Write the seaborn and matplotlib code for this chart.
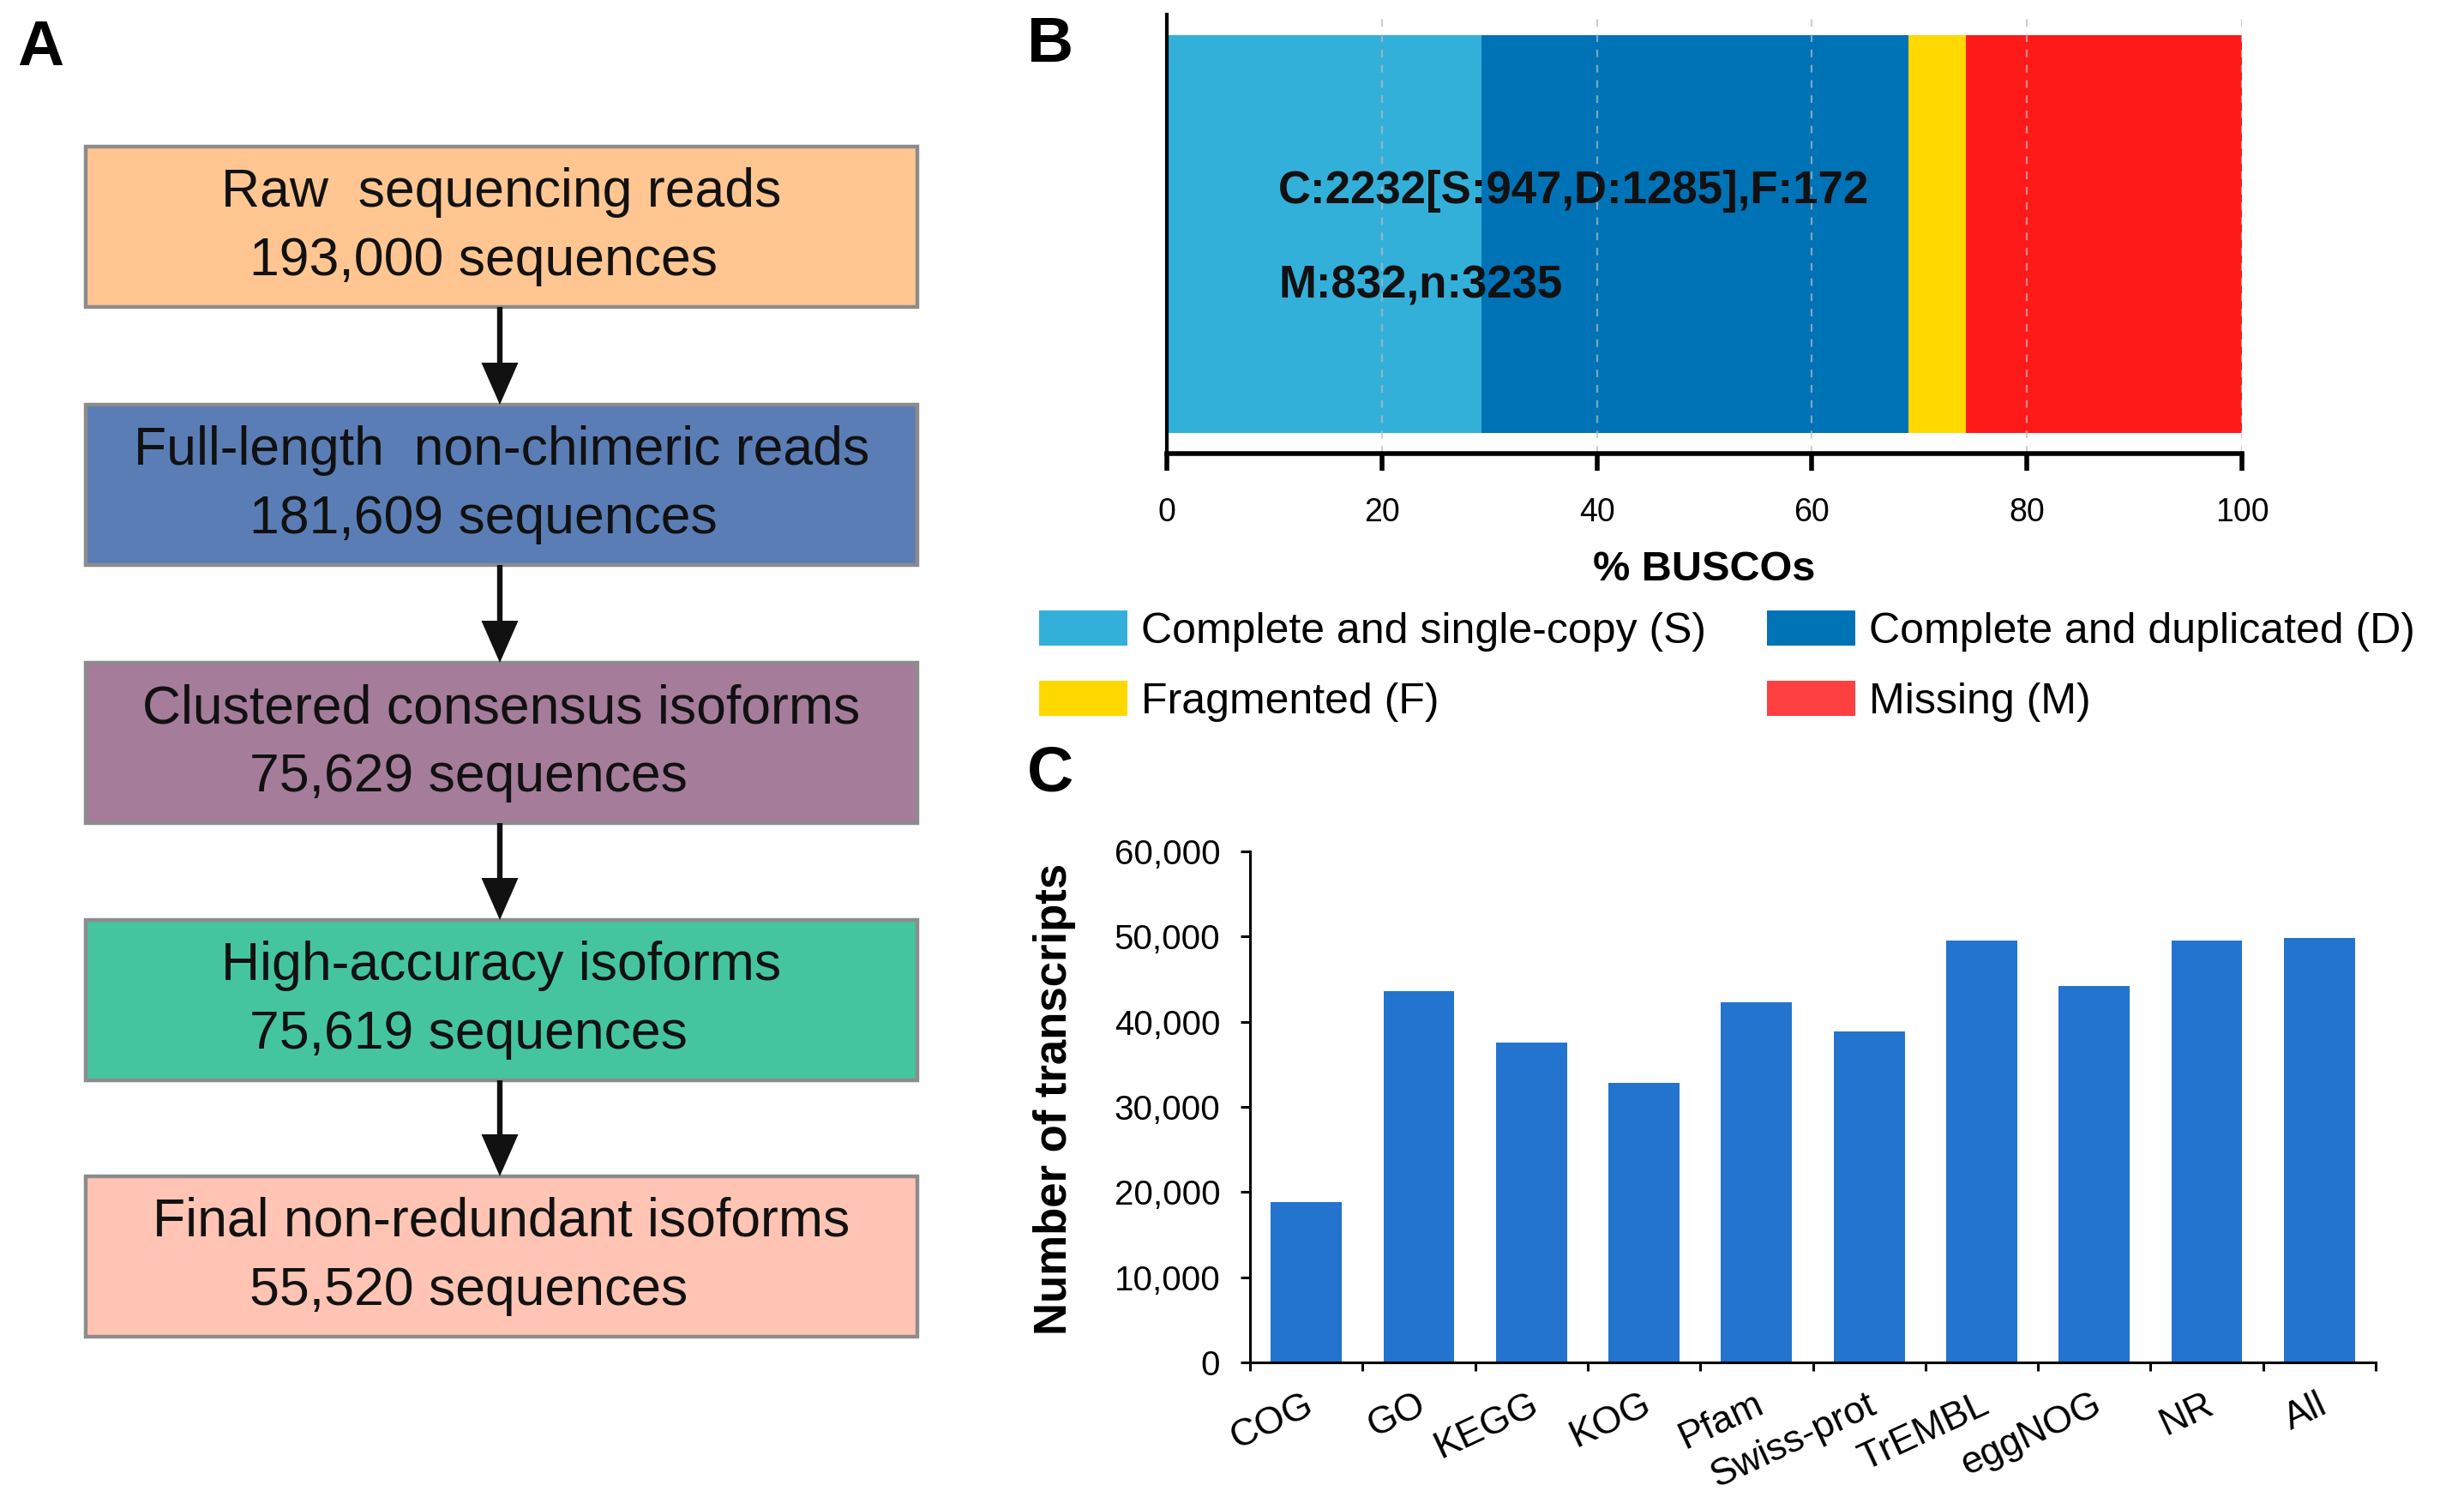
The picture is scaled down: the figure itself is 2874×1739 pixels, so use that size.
import numpy as np
import pandas as pd
import matplotlib
matplotlib.use("Agg")
import matplotlib.pyplot as plt
import matplotlib.transforms as mtransforms
from matplotlib.patches import Rectangle, Patch
from matplotlib.ticker import FuncFormatter
import seaborn as sns

# ---------------- data ----------------
flow_titles = ["Raw  sequencing reads", "Full-length  non-chimeric reads",
               "Clustered consensus isoforms", "High-accuracy isoforms",
               "Final non-redundant isoforms"]
flow_counts = ["193,000", "181,609", "75,629", "75,619", "55,520"]
flow_colors = ["#FFC692", "#5B7DB5", "#A57C9A", "#45C59F", "#FFC4B4"]

busco_labels = ["Complete and single-copy (S)", "Complete and duplicated (D)",
                "Fragmented (F)", "Missing (M)"]
busco_counts = [947, 1285, 172, 832]
busco_total = 3235
busco_colors = ["#33B0DA", "#0072B6", "#FFD800", "#FF1A1A"]
busco_legend_colors = ["#33B0DA", "#0072B6", "#FFD800", "#FF4040"]
busco_ticks = [0, 20, 40, 60, 80, 100]

databases = ["COG", "GO", "KEGG", "KOG", "Pfam", "Swiss-prot", "TrEMBL",
             "eggNOG", "NR", "All"]
transcripts = [18850, 43600, 37600, 32800, 42300, 38900, 49500, 44200, 49500, 49800]
transcript_ticks = [0, 10000, 20000, 30000, 40000, 50000, 60000]

# ---------------- style ----------------
sns.set_theme(style="white")
plt.rcParams["font.family"] = ["Liberation Sans", "DejaVu Sans"]
plt.rcParams.update({"text.color": "black", "axes.labelcolor": "black",
                     "xtick.color": "black", "ytick.color": "black",
                     "axes.edgecolor": "black"})

DPI = 200
W, H = 2874, 1739
fig = plt.figure(figsize=(W / DPI, H / DPI), dpi=DPI)
fig.patch.set_facecolor("white")

# ---------------- panel A: flowchart ----------------
axA = fig.add_axes([0, 0, 1150 / W, 1])
axA.set_xlim(0, 1150)
axA.set_ylim(H, 0)
axA.axis("off")

box_left, box_w, box_h = 100, 970, 187
box_tops = [171, 472, 773, 1073, 1372]
arrow_x = 583
for i, (title, cnt, col) in enumerate(zip(flow_titles, flow_counts, flow_colors)):
    top = box_tops[i]
    axA.add_patch(Rectangle((box_left, top), box_w, box_h, facecolor=col,
                            edgecolor="#8c8c8c", lw=1.6))
    cy = top + box_h / 2
    axA.text(box_left + box_w / 2, cy - 40, title, ha="center", va="center",
             fontsize=22.5, color="#111111")
    axA.text(291, cy + 40, f"{cnt} sequences", ha="left", va="center",
             fontsize=22.5, color="#111111")
for i in range(len(box_tops) - 1):
    y0 = box_tops[i] + box_h
    y1 = box_tops[i + 1]
    axA.plot([arrow_x, arrow_x], [y0, y1 - 40], color="#111111", lw=2.3,
             solid_capstyle="butt")
    axA.fill([arrow_x - 21.5, arrow_x + 21.5, arrow_x],
             [y1 - 49, y1 - 49, y1], color="#111111", lw=0)

fig.text(47 / W, 1 - 56 / H, "A", fontsize=27, fontweight="bold",
         ha="center", va="center")

# ---------------- panel B: BUSCO ----------------
axB = fig.add_axes([1361 / W, 1 - 529 / H, (2615 - 1361) / W, (529 - 17) / H])
cum = np.cumsum(busco_counts) / busco_total * 100
for i in reversed(range(len(busco_counts))):
    sns.barplot(x=[cum[i]], y=["BUSCO"], orient="h", color=busco_colors[i],
                saturation=1, width=1.0, linewidth=0, ax=axB)
axB.set_xlim(0, 100)
axB.set_ylim(0.5506, -0.5506)
axB.set_yticks([])
axB.set_ylabel("")
axB.set_xticks(busco_ticks)
axB.set_xticklabels([str(t) for t in busco_ticks], fontsize=13.5)
axB.tick_params(axis="x", bottom=True, direction="out", length=7.2, width=2,
                pad=11)
for s in ["top", "right"]:
    axB.spines[s].set_visible(False)
axB.spines["left"].set_linewidth(1.5)
axB.spines["bottom"].set_linewidth(2)
axB.spines["left"].set_zorder(6)
axB.spines["bottom"].set_zorder(6)
axB.grid(axis="x", linestyle=(0, (4, 4)), color="#bbbbbb", lw=0.8, alpha=0.7)
axB.grid(axis="y", visible=False)
axB.set_axisbelow(False)
axB.set_xlabel("% BUSCOs", fontsize=17.5, fontweight="bold")
axB.xaxis.set_label_coords(0.5, -0.22)

S, D, F, M = busco_counts
trB = mtransforms.blended_transform_factory(axB.transData, axB.transAxes)
axB.text(10.37, 0.5977, f"C:{S + D}[S:{S},D:{D}],F:{F}", transform=trB,
         ha="left", va="center", fontsize=19, fontweight="bold", color="#111111")
axB.text(10.37, 0.3828, f"M:{M},n:{busco_total}", transform=trB,
         ha="left", va="center", fontsize=19, fontweight="bold", color="#111111")

order = [0, 2, 1, 3]
handles = [Patch(facecolor=busco_legend_colors[i], edgecolor="none") for i in order]
labels = [busco_labels[i] for i in order]
fig.legend(handles, labels, ncol=2, loc="upper left",
           bbox_to_anchor=(1212 / W, 1 - 712 / H), frameon=False, fontsize=18,
           handlelength=2.06, handleheight=0.9, handletextpad=0.32,
           columnspacing=1.42, labelspacing=0.68, borderpad=0, borderaxespad=0)

fig.text(1225 / W, 1 - 52 / H, "B", fontsize=27, fontweight="bold",
         ha="center", va="center")

# ---------------- panel C: annotation counts ----------------
axC = fig.add_axes([1458 / W, 1 - 1589 / H, 1313 / W, 596 / H])
dfC = pd.DataFrame({"database": databases, "count": transcripts})
sns.barplot(data=dfC, x="database", y="count", color="#2274CF", saturation=1,
            width=0.63, linewidth=0, ax=axC)
axC.set_xlim(-0.5, len(databases) - 0.5)
axC.set_ylim(0, 60000)
axC.set_yticks(transcript_ticks)
axC.yaxis.set_major_formatter(FuncFormatter(lambda v, p: f"{v:,.0f}"))
axC.tick_params(axis="y", left=True, direction="out", length=4, width=1.1,
                pad=8.5, labelsize=14.5)
axC.set_xticks(np.arange(-0.5, len(databases), 1), minor=True)
axC.tick_params(axis="x", which="minor", bottom=True, direction="out",
                length=3.6, width=1.1)
axC.tick_params(axis="x", which="major", bottom=False, length=0, pad=17,
                labelsize=16)
offset = mtransforms.ScaledTranslation(6 / DPI, 0, fig.dpi_scale_trans)
for lbl in axC.get_xticklabels():
    lbl.set_rotation(25)
    lbl.set_ha("right")
    lbl.set_va("center")
    lbl.set_rotation_mode("anchor")
    lbl.set_transform(lbl.get_transform() + offset)
for s in ["top", "right"]:
    axC.spines[s].set_visible(False)
axC.spines["left"].set_linewidth(1.1)
axC.spines["bottom"].set_linewidth(1.1)
axC.set_xlabel("")
axC.set_ylabel("Number of transcripts", fontsize=19, fontweight="bold")
axC.yaxis.set_label_coords(-0.1546, 0.5158)

fig.text(1225 / W, 1 - 903 / H, "C", fontsize=27, fontweight="bold",
         ha="center", va="center")

fig.savefig("out.png", dpi=DPI)
